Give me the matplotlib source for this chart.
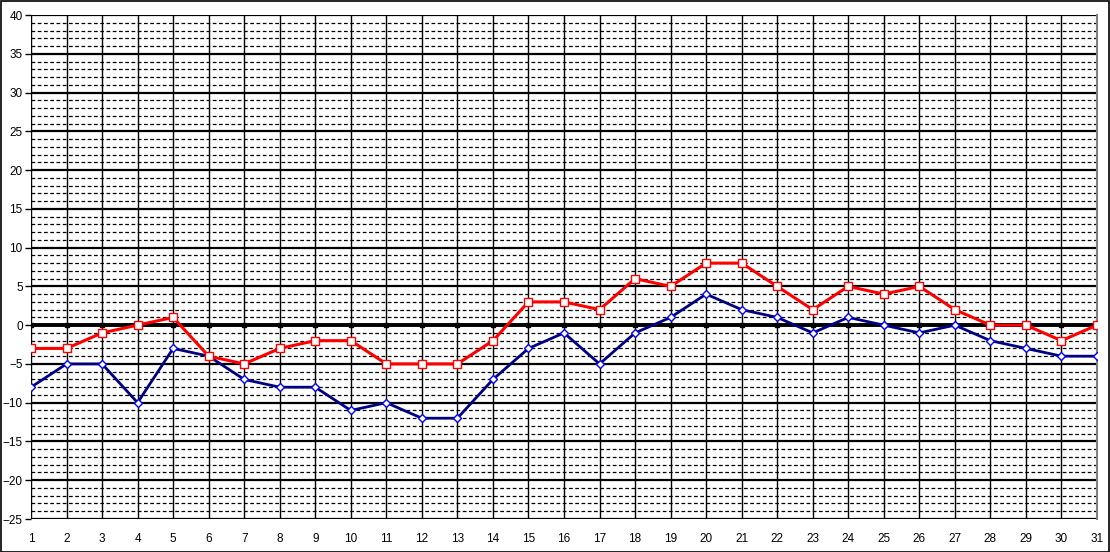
import matplotlib.pyplot as plt
import numpy as np
from matplotlib.patches import Rectangle

dias = list(range(1, 32))
maximas = [-3, -3, -1, 0, 1, -4, -5, -3, -2, -2, -5, -5, -5, -2, 3, 3, 2,
           6, 5, 8, 8, 5, 2, 5, 4, 5, 2, 0, 0, -2, 0]
minimas = [-8, -5, -5, -10, -3, -4, -7, -8, -8, -11, -10, -12, -12, -7, -3, -1, -5,
           -1, 1, 4, 2, 1, -1, 1, 0, -1, 0, -2, -3, -4, -4]
y_ticks = list(range(-25, 41, 5))

plt.rcParams['font.family'] = ['Liberation Sans', 'DejaVu Sans']

fig = plt.figure(figsize=(11.1, 5.52), dpi=100)
ax = fig.add_axes([31/1110, 33/552, 1066/1110, 504/552])

# rejilla
for v in range(-25, 41):
    if v % 5 == 0:
        continue
    ax.axhline(v, color='black', lw=0.9, ls=(0, (3, 2)), zorder=1)
for v in y_ticks:
    ax.axhline(v, color='black', lw=1.6, zorder=2)
for d in dias:
    ax.axvline(d, color='black', lw=1.0, zorder=2)

# linea de cero
ax.plot(dias, [0]*len(dias), color='black', lw=2.8, marker='s', ms=3.5, zorder=3)

ax.plot(dias, minimas, color='#000080', lw=2, marker='D', ms=4.5,
        mfc='white', mec='blue', mew=1, zorder=4)
ax.plot(dias, maximas, color='red', lw=2.2, marker='s', ms=6,
        mfc='white', mec='red', mew=1, zorder=5)

ax.set_xlim(1, 31)
ax.set_ylim(-25, 40)
ax.set_xticks(dias)
ax.set_yticks(y_ticks)
ax.tick_params(axis='x', length=0, labelsize=8.5, pad=10)
ax.tick_params(axis='y', length=4, width=1, labelsize=8.5, pad=2)
for s in ['top', 'bottom', 'left']:
    ax.spines[s].set_visible(False)
ax.spines['right'].set_color('gray')
ax.spines['right'].set_linewidth(1.5)

fig.patches.append(Rectangle((0.5/1110, 0.5/552), 1 - 1.5/1110, 1 - 1.5/552,
                             transform=fig.transFigure, fill=False,
                             edgecolor='black', lw=1.2))

fig.savefig('out.png', dpi=100)
